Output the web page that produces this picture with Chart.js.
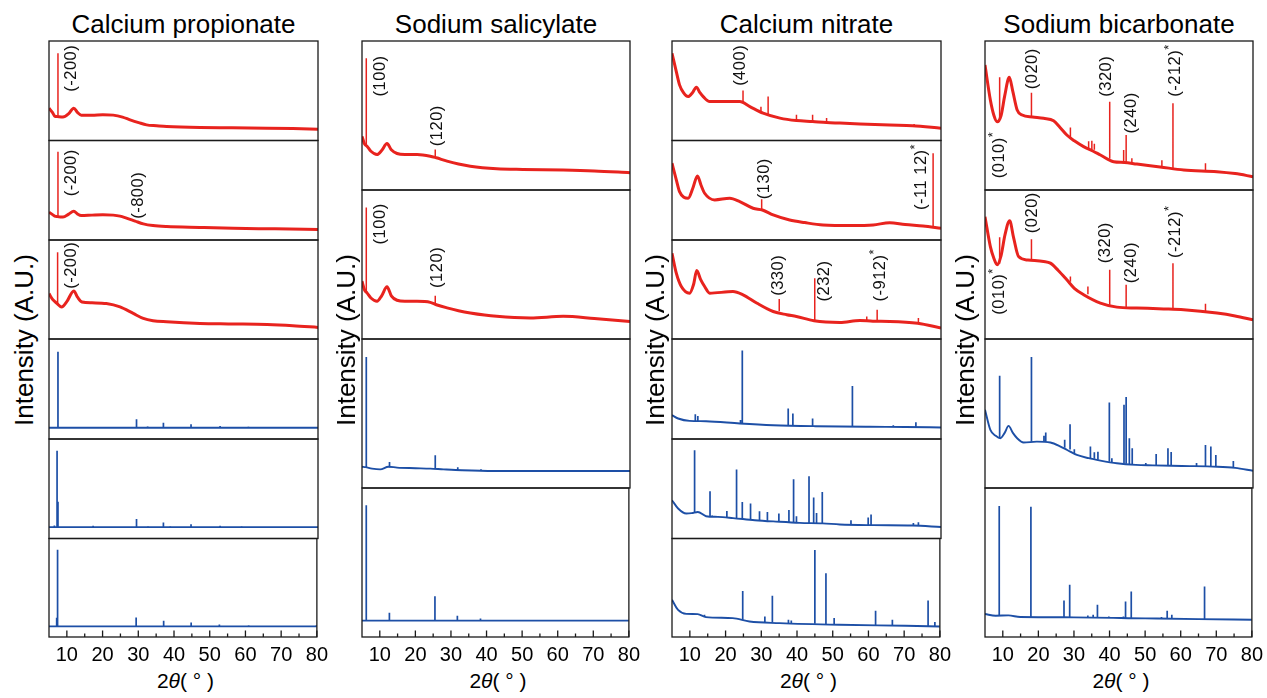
<!DOCTYPE html>
<html>
<head>
<meta charset="utf-8">
<title>XRD patterns</title>
<script src="https://cdn.jsdelivr.net/npm/chart.js@4"></script>
<style>
  body { margin: 0; background: #fff; }
  #fig { position: relative; width: 1267px; height: 698px; overflow: hidden;
         font-family: 'Liberation Sans', Arial, sans-serif; color: #000; }
  #fig canvas { position: absolute; }
  .title { position: absolute; font-size: 26px; line-height: 26px; white-space: nowrap; transform: translateX(-50%); }
  .ylab { position: absolute; font-size: 26px; line-height: 26px; white-space: nowrap; transform: translate(-50%, -50%) rotate(-90deg); }
  .xlab { position: absolute; font-size: 21px; line-height: 21px; white-space: nowrap; transform: translateX(-50%); }
</style>
</head>
<body>
<div id="fig"></div>
<script>
// x axis (2theta, degrees)
var xMin = 5, xMax = 80;
var xTicks = [10, 20, 30, 40, 50, 60, 70, 80];
var xMinor = [15, 25, 35, 45, 55, 65, 75];

// intensities are read as % of each panel height
// curves: [2theta, y]   peaks: [2theta, top, base]   notes: [label, 2theta, y]

// Calcium propionate
var cp1Curve = [[5,32.5],[6,28],[6.6,24.5],[7.3,24],[8.9,23.5],[10.5,27],[11.9,32.5],[13,28],[14,25.5],[17,25.5],[20,26],[22.9,25.5],[25.5,23.5],[27.6,20.8],[30,18],[32.2,15.7],[35,14.8],[37.8,14],[47.1,13],[56,12.8],[65.8,12.4],[73,12],[80,11.4]];
var cp1Peaks = [[7.5,87.7,24]];
var cp1Notes = [['(-200)',11.3,49]];

var cp2Curve = [[5,28],[6,25.5],[6.6,24],[7.3,23.5],[8.9,23],[10.5,26],[11.9,29],[13,26],[14,24.6],[17,25],[20,25.3],[22.9,25],[24.8,24],[26.6,22],[29,19],[31.3,16.2],[34,14.5],[37.8,13.5],[47,12.6],[56.4,11.8],[68,11.2],[80,10.5]];
var cp2Peaks = [[7.5,88.8,23.5]];
var cp2Notes = [['(-200)',11.3,44],['(-800)',29.9,21.3]];

var cp3Curve = [[5,45.8],[6,40],[7.2,36],[8.5,32.4],[10,38],[11.9,48.5],[13,42],[14.2,37.4],[17,36.5],[21,35.8],[24.8,32.4],[28.5,25.8],[31.3,20.8],[34,18.5],[37.8,17.4],[47.1,15.7],[55,15.2],[65.8,14.7],[73,13.5],[80,11.7]];
var cp3Peaks = [[7.4,87.6,35]];
var cp3Notes = [['(-200)',11.3,50.7]];

var cp4Curve = [[5,11.3],[80,11.3]];
var cp4Peaks = [[7.5,87.3,11.3],[29.4,19.7,11.3],[32.5,12.5,11.3],[36.9,16.3,11.3],[44.6,14.7,11.3],[52.7,13,11.3],[60.6,12.3,11.3]];

var cp5Curve = [[5,11.4],[80,11.4]];
var cp5Peaks = [[6.5,13,11.4],[7.25,88.3,11.4],[7.5,37,11.4],[17.3,12.8,11.4],[29.4,19.5,11.4],[32.6,12,11.4],[36.9,16.1,11.4],[38.8,12,11.4],[44.6,14.4,11.4],[52.7,12.8,11.4],[58.7,12,11.4]];

var cp6Curve = [[5,10.8],[80,10.8]];
var cp6Peaks = [[7.15,19.6,10.8],[7.4,88.5,10.8],[29.4,19.9,10.8],[37.1,16.5,10.8],[44.8,14.8,10.8],[52.7,12.8,10.8],[60.9,11.6,10.8],[79.9,12,10.8]];

// Sodium salicylate
var ss1Curve = [[5,36],[5.7,31],[6.4,29.4],[7.5,26],[9.2,23.8],[10.5,26.5],[12,31.2],[13.2,27],[14.8,24.5],[17,23.8],[20.4,23.8],[24.1,22.7],[25.8,21.6],[28.8,19.4],[32,17.5],[35.3,16],[42.7,14.3],[50,13.8],[61.3,13.4],[70,12.8],[80,11.6]];
var ss1Peaks = [[6.2,88.4,30],[25.5,27.2,22]];
var ss1Notes = [['(100)',10.1,62.8],['(120)',26.0,29.4]];

var ss2Curve = [[5,38.8],[5.7,33],[6.4,31],[7.5,27.5],[9.2,25.3],[10.5,29],[12,35],[13.2,29],[14.8,26],[17,25.3],[20.4,25.3],[24.1,24.6],[25.8,23],[28.8,20.9],[32,19],[35.3,17.5],[42.7,15.2],[52.1,14.1],[61.3,15.2],[70,13.8],[80,11.8]];
var ss2Peaks = [[6.2,88.2,31],[25.5,29.1,24]];
var ss2Notes = [['(100)',10.1,63.5],['(120)',26.0,34.3]];

var ss3Curve = [[5,14.3],[6,14],[7.8,13],[10.1,12.5],[12.4,14.3],[14.8,13.7],[20,13.3],[24.1,13],[27.8,12.5],[33,11.9],[42,11.4],[80,11.4]];
var ss3Peaks = [[6.2,88,14],[12.7,17.4,14],[25.5,21.9,13],[31.8,14,12],[38.3,12.6,11.5]];

var ss4Curve = [[5,11],[80,11]];
var ss4Peaks = [[6.2,88.4,11],[12.7,16.2,11],[25.5,27.3,11],[31.8,14.3,11],[38.3,12.5,11]];

// Calcium nitrate
var cn1Curve = [[5,87.7],[6.2,69.2],[7.1,55.9],[8.2,48],[9.5,44.1],[10.7,48],[11.8,53.6],[12.8,48],[13.7,44.1],[15.5,39.1],[19.2,39.1],[23.9,39.1],[26.7,34.1],[30.4,27.5],[35.1,22.5],[39.7,20],[44.2,19],[48.1,18],[51.8,17.5],[65.7,15.5],[72,14.8],[80,12.4]];
var cn1Peaks = [[24.8,50.2,38.5],[29.8,34,29],[31.8,44.1,26.5],[39.7,25.8,20],[44.2,25.8,19],[48.1,22.5,18],[72.5,16.5,14.8]];
var cn1Notes = [['(400)',24.1,54.9]];

var cn2Curve = [[5,77.2],[6.2,60.4],[7.1,48.6],[8.3,43],[9.5,42],[10.8,52],[12.1,64.4],[13.1,55],[14.1,47],[16.9,40.3],[21.1,42],[23.9,38.6],[27.6,31.9],[30.2,30.2],[33.2,25.2],[37.8,20.1],[42,17.5],[47.1,15.1],[55,14.5],[61.1,15.1],[65.7,17.4],[70,15.5],[75,14.1],[80,11.8]];
var cn2Peaks = [[30.0,41,30.2],[77.8,87.3,13]];
var cn2Notes = [['(130)',30.9,41],['(-11 12)*',74.6,30.2]];

var cn3Curve = [[5,86.6],[6.2,66.5],[7.6,53],[9.9,46.3],[11,55],[11.9,69.1],[13,60],[14.1,53],[15.5,46.3],[22,47.9],[24.8,44.6],[28.6,36.3],[33.2,27.8],[37,24.5],[39.7,22.8],[44.6,18.4],[51.8,16.7],[57.4,18.7],[61,18],[65.7,17.8],[73.5,16],[80,11.1]];
var cn3Peaks = [[34.9,40.3,28],[44.8,61.4,18.4],[59.3,22.8,18.3],[62.2,29.5,18],[73.7,21.1,16]];
var cn3Notes = [['(330)',34.7,43.6],['(232)',47.6,37.9],['(-912)*',63.1,37.9]];

var cn4Curve = [[5,23.8],[6.7,20.5],[9.9,18.1],[14.5,17.8],[23.9,15.5],[33.2,13.8],[45,12.8],[60,12.2],[70,12],[80,11.5]];
var cn4Peaks = [[11.5,24.8,18],[12.2,22.9,17.9],[17.4,18.1,17],[24.1,19.1,15.5],[24.6,88.5,15.4],[37.4,30.6,13.5],[38.7,25.6,13.4],[44.2,20.5,13],[55.3,53,12.5],[66.7,13.8,12.1],[73.0,16.7,12]];

var cn5Curve = [[5,38.5],[6.7,30.1],[9,25.1],[10.5,25.5],[12.2,26.7],[14.5,22.4],[17.8,21.7],[22,20.5],[28.1,18.4],[34,17],[40.6,15.7],[47,15.2],[51.8,14.1],[61.1,13.4],[72,13],[80,11.6]];
var cn5Peaks = [[11.3,88.7,25.8],[15.6,47.5,22.4],[16.2,23,22],[20.3,27.7,21],[23.0,69.3,20],[24.6,36.7,19.8],[26.9,35.1,19],[29.4,27.4,18.3],[31.6,26.7,17.8],[34.8,25.1,17],[37.6,28.6,16.4],[38.9,59.5,16.2],[39.7,22.4,16],[43.2,62.5,15.5],[44.5,41.2,15.4],[45.3,25.7,15.3],[46.9,46.8,15.2],[54.9,18.4,13.9],[59.7,21,13.5],[60.5,24.1,13.5],[72.3,15.7,13],[73.7,16.4,12.8]];

var cn6Curve = [[5,37.7],[6.7,27.6],[9,23.5],[12.2,23.2],[14.5,20.2],[22,19.2],[26.7,15.7],[35.1,14.1],[51.8,12.4],[70.4,11.4],[80,10.7]];
var cn6Peaks = [[14.1,22.6,20.5],[24.8,46.8,17.5],[31.0,20.8,15.2],[33.1,42,15],[37.6,17.5,14],[38.4,16.8,14],[45.0,88.2,13.5],[48.1,64.6,13.2],[50.4,19.2,12.8],[62.0,26.6,12.2],[66.7,17.5,12],[76.7,37,11],[78.6,15.2,10.9]];

// Sodium bicarbonate
var sb1Curve = [[5,83.9],[6.5,60.4],[7.5,50],[8.4,45.8],[9.5,50],[10.5,63],[11.8,75.6],[12.8,66],[14,53.7],[15.4,50.3],[18.3,49],[21.4,48.1],[24.2,46.5],[26,42],[27.9,36.9],[30,33],[32.6,29.1],[35.3,26],[37.3,23.5],[41,19],[44,18.5],[47.5,17.4],[54,15.5],[60.6,13.4],[69.9,12.3],[75,11],[80,8.9]];
var sb1Peaks = [[9.1,75.6,47],[18.0,65.3,49.5],[28.9,42,35],[34.0,32.7,28],[34.9,33,27.5],[35.6,31,27],[39.9,59.3,21],[43.8,26.8,18.6],[44.5,36.9,18.5],[46.1,21.3,18],[54.5,20,15.5],[57.6,58.2,14.2],[66.7,17.9,12.6]];
var sb1Notes = [['(010)*',9.06,7.9],['(020)',18.3,67.6],['(320)',39.1,62.6],['(240)',46.0,38],['(-212)*',58.3,62.6]];

var sb2Curve = [[5,82.1],[6.5,62],[7.5,54],[8.4,49.8],[9.5,56],[10.6,70],[11.9,79.4],[13,68],[14.4,55.3],[17,53],[21.4,52],[23.3,50.9],[25.5,46],[27.9,39.7],[30,34],[32.6,29.7],[37.3,24.1],[41.9,21.4],[47.5,20.8],[55,20.2],[60.6,19.6],[69.9,17.4],[75,15.5],[80,12.9]];
var sb2Peaks = [[9.1,68.3,50.5],[18.0,67,53],[28.9,42,38.5],[33.8,35.2,30],[39.9,46.4,23],[44.5,36.4,21],[57.6,50.9,20],[66.7,23.7,18]];
var sb2Notes = [['(010)*',9.06,16.3],['(020)',18.3,71],['(320)',38.7,50.9],['(240)',46.0,37.5],['(-212)*',58.3,54.3]];

var sb3Curve = [[5,52.5],[6.5,39],[8,35],[9.3,33.4],[10.5,37],[11.6,41.7],[12.8,37],[14,33.4],[15.8,30.5],[19.5,31.1],[23.3,30.5],[26,28],[28,25.5],[30.7,22.2],[34,20],[37.3,18.4],[41.9,16.6],[47.2,15.5],[52,15.2],[60.1,14.8],[70,14.3],[75,13.5],[80,11.6]];
var sb3Peaks = [[9.1,75.3,33.5],[18.0,87.9,31],[21.5,35,31],[22.0,37.2,31],[27.3,32.3,27],[28.8,42.8,25.8],[30.0,26,23.5],[34.5,27.8,20.2],[35.6,24,19.6],[36.6,24.4,19],[39.8,57.4,17.6],[40.5,20,17.4],[43.9,55.8,16.4],[44.5,61,16.3],[45.4,33.4,16],[46.2,26.7,15.8],[50.0,16.8,15.3],[52.9,22.9,15.2],[56.2,26.7,15],[57.1,24.1,15],[64.2,16.8,14.6],[66.7,28.9,14.5],[68.2,27.8,14.4],[69.6,22.2,14.3],[74.5,18.2,13.6]];

var sb4Curve = [[5,15.4],[8,14.3],[11.6,14.5],[14.9,13.4],[30,13.2],[50,12.5],[65,12],[80,11.6]];
var sb4Peaks = [[9.0,88,14.2],[17.9,87.5,13.4],[27.2,24.5,13.3],[28.8,35,13.2],[33.9,14.5,13],[35.4,15,13],[36.6,21.6,13],[39.8,13.8,12.8],[43.9,13.8,12.6],[44.5,23.8,12.6],[46.1,30.5,12.5],[54.6,13.4,12.2],[56.2,17.6,12.2],[57.5,15,12.1],[66.7,33.9,12]];

var RED = '#e8231e', BLUE = '#1d4fa6';

var columns = [
    { title: 'Calcium propionate', left: 49, right: 318, ylabX: 24,
      rows: [41, 140.5, 240, 339, 439, 538.5, 637],
      panels: [[cp1Curve, cp1Peaks, RED, cp1Notes], [cp2Curve, cp2Peaks, RED, cp2Notes], [cp3Curve, cp3Peaks, RED, cp3Notes],
               [cp4Curve, cp4Peaks, BLUE], [cp5Curve, cp5Peaks, BLUE], [cp6Curve, cp6Peaks, BLUE]] },
    { title: 'Sodium salicylate', left: 362, right: 630, ylabX: 346,
      rows: [41, 190, 339, 488, 637],
      panels: [[ss1Curve, ss1Peaks, RED, ss1Notes], [ss2Curve, ss2Peaks, RED, ss2Notes],
               [ss3Curve, ss3Peaks, BLUE], [ss4Curve, ss4Peaks, BLUE]] },
    { title: 'Calcium nitrate', left: 672, right: 941, ylabX: 655,
      rows: [41, 140.5, 240, 339, 439, 538.5, 637],
      panels: [[cn1Curve, cn1Peaks, RED, cn1Notes], [cn2Curve, cn2Peaks, RED, cn2Notes], [cn3Curve, cn3Peaks, RED, cn3Notes],
               [cn4Curve, cn4Peaks, BLUE], [cn5Curve, cn5Peaks, BLUE], [cn6Curve, cn6Peaks, BLUE]] },
    { title: 'Sodium bicarbonate', left: 985, right: 1253, ylabX: 965,
      rows: [41, 190, 339, 488, 637],
      panels: [[sb1Curve, sb1Peaks, RED, sb1Notes], [sb2Curve, sb2Peaks, RED, sb2Notes],
               [sb3Curve, sb3Peaks, BLUE], [sb4Curve, sb4Peaks, BLUE]] }
];

Chart.defaults.font.family = "'Liberation Sans', Arial, sans-serif";
Chart.defaults.color = '#000';

function curvePoints(curve) {
    return curve.map(function (c) { return { x: c[0], y: c[1] }; });
}
// each reflection is a vertical stroke from the trace up to its top, separated by gaps
function peakPoints(peaks) {
    var pts = [];
    peaks.forEach(function (p) {
        pts.push({ x: p[0], y: p[2] }, { x: p[0], y: p[1] }, { x: p[0], y: null });
    });
    return pts;
}

// box around each panel, inward ticks on the bottom one
var framePlugin = {
    id: 'frame',
    afterDraw: function (chart, args, opts) {
        var ctx = chart.ctx, a = chart.chartArea;
        ctx.save();
        ctx.strokeStyle = '#1a1a1a';
        ctx.lineWidth = 1.3;
        ctx.strokeRect(a.left, a.top, a.right - a.left, a.bottom - a.top);
        if (opts.ticks) {
            var xs = chart.scales.x;
            ctx.beginPath();
            xTicks.forEach(function (v) {
                var px = xs.getPixelForValue(v);
                ctx.moveTo(px, a.bottom); ctx.lineTo(px, a.bottom - 6.5);
            });
            xMinor.forEach(function (v) {
                var px = xs.getPixelForValue(v);
                ctx.moveTo(px, a.bottom); ctx.lineTo(px, a.bottom - 3.5);
            });
            ctx.stroke();
        }
        ctx.restore();
    }
};

// rotated Miller index labels
var notesPlugin = {
    id: 'notes',
    afterDatasetsDraw: function (chart, args, opts) {
        var ctx = chart.ctx, xs = chart.scales.x, ys = chart.scales.y;
        (opts.items || []).forEach(function (n) {
            var star = n[0].slice(-1) === '*';
            var main = star ? n[0].slice(0, -1) : n[0];
            ctx.save();
            ctx.translate(xs.getPixelForValue(n[1]), ys.getPixelForValue(n[2]));
            ctx.rotate(-Math.PI / 2);
            ctx.fillStyle = '#111';
            ctx.font = "16.5px 'Liberation Sans', Arial, sans-serif";
            ctx.letterSpacing = '0.5px';
            ctx.textAlign = 'left';
            ctx.textBaseline = 'middle';
            ctx.fillText(main, 0, 0);
            if (star) {
                var w = ctx.measureText(main).width;
                ctx.font = "13px 'Liberation Sans', Arial, sans-serif";
                ctx.fillText('*', w, -6);
            }
            ctx.restore();
        });
    }
};

var fig = document.getElementById('fig');
var PADX = 16, PADY = 3, PAGE_H = 698;

function addText(cls, html, left, top) {
    var d = document.createElement('div');
    d.className = cls;
    d.innerHTML = html;
    d.style.left = left + 'px';
    d.style.top = top + 'px';
    fig.appendChild(d);
}

columns.forEach(function (col) {
    var cx = (col.left + col.right) / 2;
    addText('title', col.title, cx, 11);
    addText('ylab', 'Intensity (A.U.)', col.ylabX, 340);
    addText('xlab', '2<i>θ</i>( ° )', cx + 2, 670);

    col.panels.forEach(function (pn, r) {
        var top = col.rows[r], bot = col.rows[r + 1];
        var last = r === col.panels.length - 1;
        var cTop = Math.floor(top) - PADY;
        var cLeft = col.left - PADX;
        var w = col.right - col.left + 2 * PADX;
        var h = last ? PAGE_H - cTop : Math.ceil(bot) + PADY - cTop;
        var red = pn[2] === RED;

        var cv = document.createElement('canvas');
        cv.width = w; cv.height = h;
        cv.style.left = cLeft + 'px';
        cv.style.top = cTop + 'px';
        cv.style.width = w + 'px';
        cv.style.height = h + 'px';
        fig.appendChild(cv);

        var xScale = {
            type: 'linear', min: xMin, max: xMax,
            display: last,
            grid: { display: false, drawTicks: false },
            border: { display: false },
            ticks: { font: { size: 20 }, color: '#000', padding: 6, autoSkip: false, maxRotation: 0 }
        };
        if (last) {
            xScale.afterFit = function (s) { s.height = PAGE_H - bot; };
            xScale.afterBuildTicks = function (s) { s.ticks = xTicks.map(function (v) { return { value: v }; }); };
        }

        new Chart(cv.getContext('2d'), {
            type: 'line',
            data: {
                datasets: [{
                    data: curvePoints(pn[0]),
                    borderColor: pn[2],
                    borderWidth: red ? 3 : 1.9,
                    borderJoinStyle: 'round',
                    cubicInterpolationMode: 'monotone',
                    pointRadius: 0,
                    fill: false
                }, {
                    data: peakPoints(pn[1]),
                    borderColor: pn[2],
                    borderWidth: red ? 1.5 : 1.7,
                    spanGaps: false,
                    tension: 0,
                    pointRadius: 0,
                    fill: false
                }]
            },
            options: {
                responsive: false,
                maintainAspectRatio: false,
                devicePixelRatio: 1,
                animation: false,
                events: [],
                layout: {
                    padding: { left: PADX, right: PADX, top: top - cTop, bottom: last ? 0 : cTop + h - bot }
                },
                plugins: {
                    legend: { display: false },
                    tooltip: { enabled: false },
                    frame: { ticks: last },
                    notes: { items: pn[3] || [] }
                },
                scales: {
                    x: xScale,
                    y: { min: 0, max: 100, display: false }
                }
            },
            plugins: [framePlugin, notesPlugin]
        });
    });
});
</script>
</body>
</html>
